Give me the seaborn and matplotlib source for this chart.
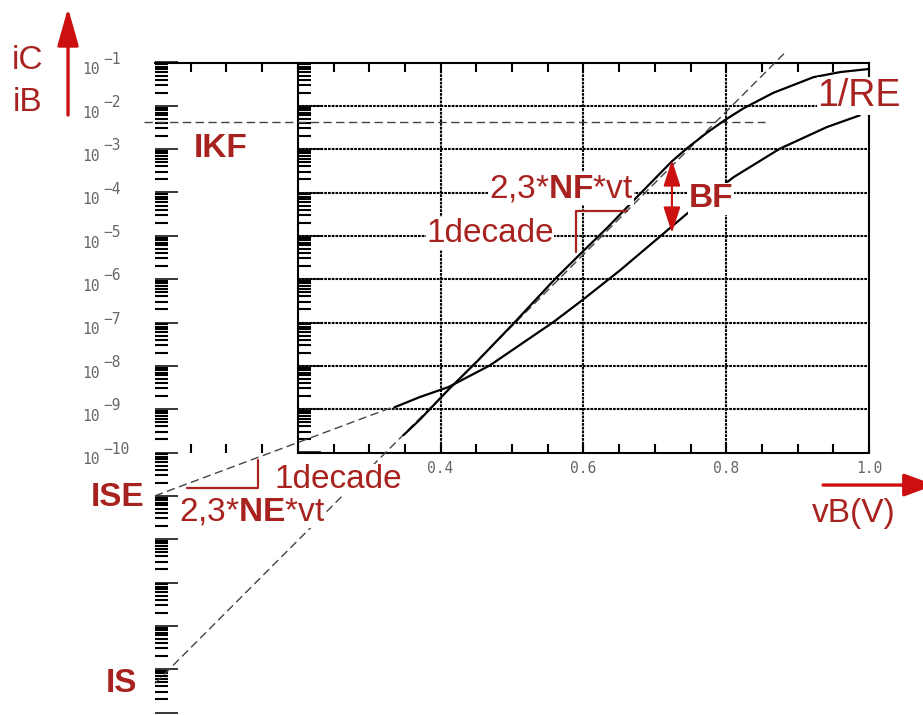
import numpy as np
import matplotlib
matplotlib.use("Agg")
import matplotlib.pyplot as plt
import seaborn as sns
from matplotlib.ticker import LogLocator, NullFormatter, FixedLocator, NullLocator
from matplotlib.patches import FancyArrowPatch

# ---------------- data ----------------
# collector current iC : base-emitter voltage (V) and log10(iC)
vb_ic = [0.348, 0.371, 0.411, 0.451, 0.504, 0.560, 0.598, 0.633, 0.677,
         0.724, 0.745, 0.773, 0.798, 0.824, 0.866, 0.922, 0.960, 1.000]
log_ic = [-9.60, -9.24, -8.55, -7.90, -6.99, -6.00, -5.38, -4.82, -4.07,
          -3.28, -2.98, -2.62, -2.33, -2.06, -1.70, -1.34, -1.22, -1.15]
# base current iB
vb_ib = [0.335, 0.371, 0.411, 0.469, 0.558, 0.598, 0.651, 0.684, 0.745,
         0.810, 0.875, 0.941, 0.987]
log_ib = [-8.96, -8.72, -8.49, -7.99, -6.99, -6.49, -5.80, -5.34, -4.49,
          -3.65, -2.99, -2.49, -2.22]
# asymptotes (dashed)
ic_asym_vb = [0.0, 0.885]
ic_asym_log = [-15.33, -0.73]
ib_asym_vb = [0.0, 0.335]
ib_asym_log = [-11.0, -8.94]
ikf_vb = [-0.015, 0.854]
ikf_log = -2.366

# ticks
xtick_major = [0.4, 0.6, 0.8, 1.0]
xtick_labels = ["0.4", "0.6", "0.8", "1.0"]
xtick_minor = [0.05, 0.10, 0.15, 0.20, 0.25, 0.30, 0.35, 0.45, 0.50, 0.55,
               0.65, 0.70, 0.75, 0.85, 0.90, 0.95]
ytick_exp = [-1, -2, -3, -4, -5, -6, -7, -8, -9, -10]
grid_x = [0.4, 0.6, 0.8]
grid_y_exp = [-2, -3, -4, -5, -6, -7, -8, -9]

# annotation geometry (V, log10)
nf_bracket_v = [0.5896, 0.5896, 0.661]
nf_bracket_log = [-5.373, -4.427, -4.427]
ne_bracket_v = [0.0448, 0.1447, 0.1447]
ne_bracket_log = [-10.827, -10.827, -10.174]

# ---------------- style ----------------
sns.set_theme(style="white")
plt.rcParams["font.family"] = ["Liberation Sans", "DejaVu Sans"]
plt.rcParams["mathtext.fontset"] = "custom"
plt.rcParams["mathtext.rm"] = "Liberation Sans"
plt.rcParams["mathtext.bf"] = "Liberation Sans:bold"
plt.rcParams["mathtext.it"] = "Liberation Sans:italic"

RED_T = "#a8231f"
RED_A = "#cc1010"
GRAY_T = "#666666"
MONO = ["DejaVu Sans Mono"]

fig = plt.figure(figsize=(9.23, 7.15), dpi=100, facecolor="white")
L = 155 / 923
W = 714 / 923
# inner frame: 1e-10 .. 1e-1
ax = fig.add_axes([L, (715 - 452.5) / 715, W, 390 / 715])
# full-height axes: 1e-16 .. 1e-1 (outer tick column + curves)
axC = fig.add_axes([L, (715 - 712.5) / 715, W, 650 / 715])
axC.set_zorder(ax.get_zorder() + 1)
axC.patch.set_visible(False)

for a, lo in ((ax, 1e-10), (axC, 1e-16)):
    a.set_yscale("log")
    a.set_xlim(0, 1)
    a.set_ylim(lo, 1e-1)

# ---- inner frame ----
ax.patch.set_facecolor("white")
for s in ("top", "right", "bottom"):
    ax.spines[s].set_visible(True)
    ax.spines[s].set_color("black")
    ax.spines[s].set_linewidth(1.5)
ax.spines["left"].set_visible(False)
ax.spines["bottom"].set_bounds(0.2, 1.0)
ax.yaxis.set_major_locator(NullLocator())
ax.yaxis.set_minor_locator(NullLocator())
ax.tick_params(axis="y", which="both", left=False, right=False, labelleft=False)
ax.xaxis.set_major_locator(FixedLocator(xtick_major))
ax.set_xticklabels(xtick_labels)
ax.xaxis.set_minor_locator(FixedLocator(xtick_minor))
ax.tick_params(axis="x", which="both", direction="in", top=True, bottom=True,
               length=6.5, width=1.5, color="black", labelsize=10.5,
               labelcolor=GRAY_T, pad=6)
for lbl in ax.get_xticklabels():
    lbl.set_family(MONO)

sec = ax.secondary_yaxis(0.2)
sec.spines["left"].set_linewidth(1.5)
sec.spines["left"].set_color("black")
sec.yaxis.set_major_locator(LogLocator(base=10, numticks=100))
sec.yaxis.set_minor_locator(LogLocator(base=10, subs=np.arange(2, 10), numticks=100))
sec.yaxis.set_major_formatter(NullFormatter())
sec.yaxis.set_minor_formatter(NullFormatter())
sec.tick_params(which="major", direction="in", length=16.5, width=1.1, color="black",
                left=True, labelleft=False)
sec.tick_params(which="minor", direction="in", length=9.4, width=1.5, color="black",
                left=True, labelleft=False)

dot = (0, (1.3, 0.5))
ax.vlines(grid_x, 1e-10, 1e-1, colors="black", linestyles=dot, linewidth=1.5)
ax.hlines([10.0 ** e for e in grid_y_exp], 0.2, 1.0, colors="black",
          linestyles=dot, linewidth=1.5)

# ---- outer tick column ----
for s in axC.spines.values():
    s.set_visible(False)
axC.xaxis.set_major_locator(NullLocator())
axC.xaxis.set_minor_locator(NullLocator())
axC.yaxis.set_major_locator(LogLocator(base=10, numticks=100))
axC.yaxis.set_minor_locator(LogLocator(base=10, subs=np.arange(2, 10), numticks=100))
axC.yaxis.set_major_formatter(NullFormatter())
axC.yaxis.set_minor_formatter(NullFormatter())
axC.tick_params(axis="y", which="major", direction="in", left=True, length=16.5,
                width=1.1, color="black", labelleft=False)
axC.tick_params(axis="y", which="minor", direction="in", left=True, length=9.4,
                width=1.5, color="black", labelleft=False)
axC.tick_params(axis="x", which="both", bottom=False, labelbottom=False)

for e in ytick_exp:
    axC.annotate("10", xy=(0, 10.0 ** e), xytext=(-73, -7.5), textcoords="offset pixels",
                 ha="left", va="center", family=MONO, fontsize=10.5, color=GRAY_T,
                 annotation_clip=False)
    axC.annotate("\u2212" + str(-e), xy=(0, 10.0 ** e), xytext=(-52, 3.5),
                 textcoords="offset pixels", ha="left", va="center", family=MONO,
                 fontsize=10.5, color=GRAY_T, annotation_clip=False)

# ---- curves ----
sns.lineplot(x=vb_ic, y=[10.0 ** v for v in log_ic], ax=axC, color="black",
             linewidth=1.6, sort=False, estimator=None, zorder=3)
sns.lineplot(x=vb_ib, y=[10.0 ** v for v in log_ib], ax=axC, color="black",
             linewidth=1.6, sort=False, estimator=None, zorder=3)

dash_kw = dict(color="#444444", linewidth=1.0, dashes=(6, 3.2), clip_on=False, zorder=2)
axC.plot(ic_asym_vb, [10.0 ** v for v in ic_asym_log], **dash_kw)
axC.plot(ib_asym_vb, [10.0 ** v for v in ib_asym_log], **dash_kw)
axC.plot(ikf_vb, [10.0 ** ikf_log] * 2, **dash_kw)

axC.set_xlim(0, 1)
axC.set_ylim(1e-16, 1e-1)

# ---- red brackets ----
axC.plot(nf_bracket_v, [10.0 ** v for v in nf_bracket_log], color=RED_T, lw=1.6,
         clip_on=False, zorder=4)
axC.plot(ne_bracket_v, [10.0 ** v for v in ne_bracket_log], color=RED_T, lw=1.6,
         clip_on=False, zorder=4)

# ---- labels ----
wb = dict(facecolor="white", edgecolor="none", pad=0.5)


def lab(s, v, lg, size=24, weight="normal", bbox=True):
    axC.text(v, 10.0 ** lg, s, ha="center", va="baseline", fontsize=size,
             fontweight=weight, color=RED_T, clip_on=False, zorder=6,
             bbox=wb if bbox else None)


lab("iC", -0.1779, -1.157, bbox=False)
lab("iB", -0.1786, -2.119, bbox=False)
lab("IKF", 0.0924, -3.181, weight="bold")
lab("ISE", -0.0525, -11.235, weight="bold")
lab("IS", -0.0466, -15.521, weight="bold")
lab("BF", 0.7784, -4.342, weight="bold")
lab("1/RE", 0.986, -2.004, size=27)
lab("vB(V)", 0.979, -11.598)
lab(r"2,3*$\mathbf{NF}$*vt", 0.5686, -4.104)
lab("1decade", 0.4692, -5.143)
lab("1decade", 0.2563, -10.827)
lab(r"2,3*$\mathbf{NE}$*vt", 0.1366, -11.559)

# ---- red arrows ----
def arrow(p0, p1, style, lw):
    a = FancyArrowPatch((p0[0], 10.0 ** p0[1]), (p1[0], 10.0 ** p1[1]),
                        arrowstyle=style, mutation_scale=1, linewidth=lw,
                        color=RED_A, shrinkA=0, shrinkB=0,
                        transform=axC.transData, clip_on=False, zorder=7)
    axC.add_patch(a)


arrow((-0.1218, -2.212), (-0.1218, 0.258), "-|>,head_length=23,head_width=6.5", 2.4)
arrow((0.9356, -10.751), (1.0924, -10.751), "-|>,head_length=19,head_width=7", 2.4)
arrow((0.724, -3.25), (0.724, -4.935), "<|-|>,head_length=16,head_width=5.2", 1.5)

fig.savefig("out.png", dpi=100, facecolor="white")
